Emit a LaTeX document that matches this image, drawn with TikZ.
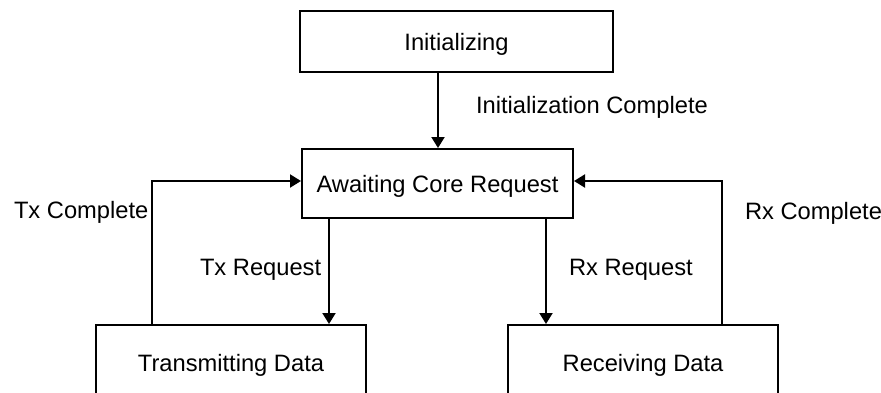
\documentclass[tikz,border=0pt]{standalone}
\usepackage{fontspec}
\setmainfont{Liberation Sans}
\usetikzlibrary{arrows.meta}
\begin{document}
\begin{tikzpicture}[x=1pt,y=-1pt,
  line width=2pt,
  every node/.style={font=\fontsize{23.7}{28}\selectfont},
  statebox/.style={draw, line width=2pt, inner sep=0pt, text height=17pt, text depth=0pt},
  lbl/.style={inner sep=0pt, anchor=base west},
  flow/.style={-{Triangle[width=13pt,length=11pt]}}]
  \useasboundingbox (0,0) rectangle (881,392);
  \clip (0,0) rectangle (881,392);

  % states
  \node[statebox, minimum width=313pt, minimum height=61pt] (init)  at (456.5,41.5) {Initializing};
  \node[statebox, minimum width=271pt, minimum height=69pt] (await) at (437.5,183.5) {Awaiting Core Request};
  \node[statebox, minimum width=270pt, minimum height=75pt] (tx)    at (231,362.5) {Transmitting Data};
  \node[statebox, minimum width=270pt, minimum height=75pt] (rx)    at (643,362.5) {Receiving Data};

  % turning points of the return paths
  \coordinate (txup) at (152,181);
  \coordinate (rxup) at (722,181);

  % transitions
  \draw[flow] (init.south -| 438,0) -- (await.north -| 438,0);
  \draw[flow] (await.south -| 329,0) -- (tx.north -| 329,0);
  \draw[flow] (await.south -| 546,0) -- (rx.north -| 546,0);
  \draw[flow] (tx.north -| txup) -- (txup) -- (await.west |- txup);
  \draw[flow] (rx.north -| rxup) -- (rxup) -- (await.east |- rxup);

  % transition labels
  \node[lbl] (linit) at (475,113) {Initialization Complete};
  \node[lbl] (ltxc)  at (13,218)  {Tx Complete};
  \node[lbl] (lrxc)  at (744,219) {Rx Complete};
  \node[lbl] (ltxr)  at (199,275) {Tx Request};
  \node[lbl] (lrxr)  at (568,275) {Rx Request};
\end{tikzpicture}
\end{document}
